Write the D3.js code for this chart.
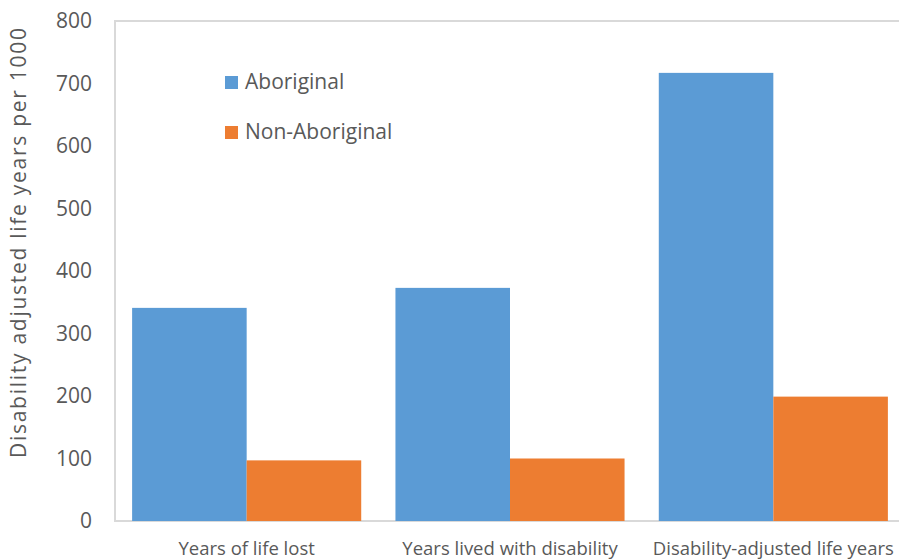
<!DOCTYPE html>
<html>
<head>
<meta charset="utf-8">
<script src="https://cdn.jsdelivr.net/npm/d3@7"></script>
<style>
  body { margin: 0; background: #fff; }
  text { font-family: "Open Sans", "Liberation Sans", sans-serif; fill: #595959; }
</style>
</head>
<body>
<div class="chart"></div>
<script>
const categories = ['Years of life lost', 'Years lived with disability', 'Disability-adjusted life years'];
const seriesNames = ['Aboriginal', 'Non-Aboriginal'];
const aboriginal = [341, 373, 717];
const nonAboriginal = [97, 100, 199];
const yTicks = [0, 100, 200, 300, 400, 500, 600, 700, 800];
const colors = ['#5b9bd5', '#ed7d31'];

const width = 899, height = 559;
const margin = {left: 115, top: 21, right: -6, bottom: 38};
const plotW = width - margin.left - margin.right;
const plotH = height - margin.top - margin.bottom;

const svg = d3.select('.chart').append('svg')
  .attr('width', width).attr('height', height);

const panel = svg.append('g')
  .attr('transform', `translate(${margin.left},${margin.top})`);

const x = d3.scaleBand().domain(categories).range([0, plotW]).paddingInner(0).paddingOuter(0);
const inner = x.bandwidth() * 0.87;
const x1 = d3.scaleBand().domain(seriesNames)
  .range([(x.bandwidth() - inner) / 2, (x.bandwidth() + inner) / 2]);
const y = d3.scaleLinear().domain([0, 800]).range([plotH, 0]);

// plot frame
panel.append('path')
  .attr('d', `M${plotW},0H0V${plotH}H${plotW}`)
  .attr('fill', 'none').attr('stroke', '#d9d9d9').attr('stroke-width', 2);

// bars
const rows = categories.map((c, i) => ({cat: c, vals: [aboriginal[i], nonAboriginal[i]]}));
const groups = panel.selectAll('.group').data(rows).join('g')
  .attr('class', 'group')
  .attr('transform', d => `translate(${x(d.cat)},0)`);
groups.selectAll('rect')
  .data(d => d.vals.map((v, j) => ({name: seriesNames[j], v, j})))
  .join('rect')
  .attr('x', d => x1(d.name))
  .attr('width', x1.bandwidth())
  .attr('y', d => y(d.v))
  .attr('height', d => y(0) - y(d.v))
  .attr('fill', d => colors[d.j]);

// y axis labels
const yAxis = d3.axisLeft(y).tickValues(yTicks).tickSize(0).tickPadding(23);
panel.append('g').attr('class', 'y-axis').call(yAxis)
  .call(g => g.select('.domain').remove())
  .selectAll('text').style('font-size', '21px').attr('fill', '#595959');

// x axis labels
const xAxis = d3.axisBottom(x).tickSize(0).tickPadding(21);
panel.append('g').attr('class', 'x-axis')
  .attr('transform', `translate(0,${plotH})`)
  .call(xAxis)
  .call(g => g.select('.domain').remove())
  .selectAll('text').style('font-size', '18.5px').attr('fill', '#595959');

// y title
svg.append('text')
  .attr('transform', 'translate(26,243) rotate(-90)')
  .attr('text-anchor', 'middle')
  .attr('textLength', 430)
  .attr('lengthAdjust', 'spacing')
  .style('font-size', '21px')
  .text('Disability adjusted life years per 1000');

// legend
const legend = svg.append('g').attr('transform', 'translate(225,76)');
seriesNames.forEach((n, i) => {
  const g = legend.append('g').attr('transform', `translate(0,${i * 50})`);
  g.append('rect').attr('width', 13).attr('height', 13).attr('fill', colors[i]);
  g.append('text').attr('x', 20).attr('y', 5.5).attr('dy', '0.35em')
    .style('font-size', '21px').text(n);
});
</script>
</body>
</html>
